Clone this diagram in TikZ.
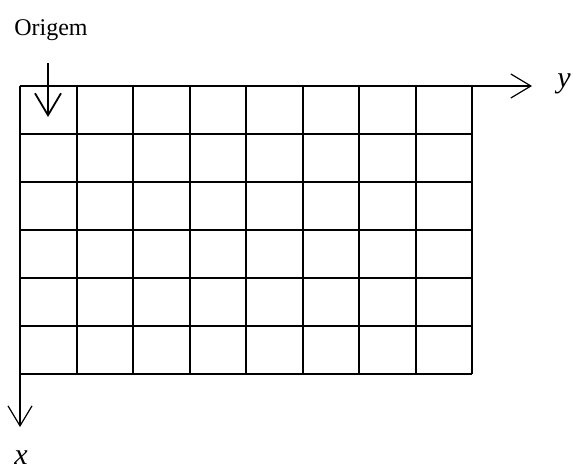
\documentclass[tikz,border=0pt]{standalone}
\usepackage{fontspec}
\setmainfont{Liberation Serif}
\usetikzlibrary{arrows.meta}
\begin{document}
\begin{tikzpicture}[x=1pt,y=-1pt,
  gridline/.style={line width=1.3pt,black},
  axis/.style={line width=1.2pt,black,-{Straight Barb[length=20pt,width=24pt,line width=1.2pt]}},
  origarrow/.style={line width=1.8pt,black,-{Straight Barb[length=22pt,width=26pt,line width=1.8pt]}},
  lbl/.style={inner sep=0pt},
  axlbl/.style={inner sep=0pt,font=\fontsize{30}{30}\selectfont\itshape}]
\useasboundingbox (0,0) rectangle (573,471);
\foreach \i in {1,...,8} {
  \pgfmathsetmacro{\xx}{round(20+56.5*\i)}
  \draw[gridline] (\xx,86) -- (\xx,374);
}
\foreach \j in {1,...,6} {
  \draw[gridline] (20,{86+48*\j}) -- (472,{86+48*\j});
}
\coordinate (O) at (20,86);
\coordinate (yend) at (532,86);
\coordinate (xend) at (20,427);
\draw[axis] (O) -- (yend);
\draw[axis] (O) -- (xend);
\node[axlbl] (ylab) at (564,84) {y};
\node[axlbl] (xlab) at (21,458) {x};
\node[lbl,font=\fontsize{24}{24}\selectfont] (orig) at (51,30) {Origem};
\coordinate (ostart) at (48,63);
\coordinate (oend) at (48,117);
\draw[origarrow] (ostart) -- (oend);
\end{tikzpicture}
\end{document}
